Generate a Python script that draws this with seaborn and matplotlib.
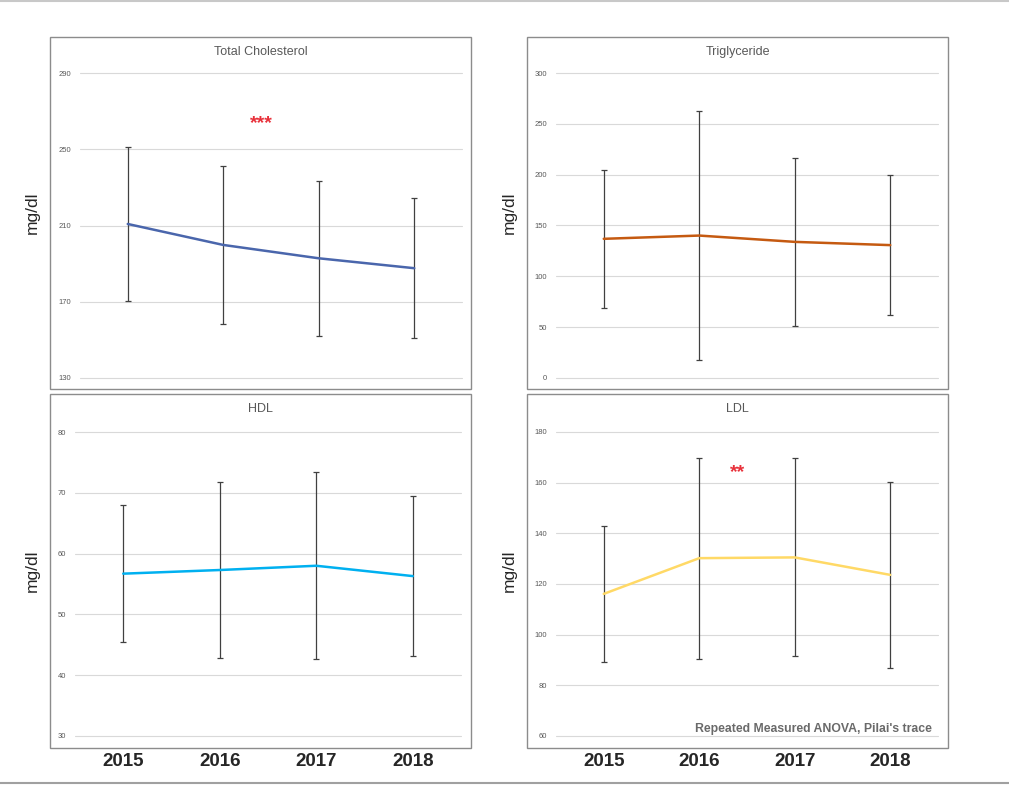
import numpy as np
import pandas as pd
import matplotlib.pyplot as plt
import seaborn as sns
from matplotlib.patches import Rectangle
from matplotlib.lines import Line2D

years = ["2015", "2016", "2017", "2018"]

# mean and SD per year (mg/dl)
tc_mean = [210.8, 199.8, 192.8, 187.6]
tc_sd = [40.4, 41.4, 40.7, 36.8]
tg_mean = [136.9, 140.1, 133.9, 130.7]
tg_sd = [68.1, 122.8, 82.9, 69.0]
hdl_mean = [56.7, 57.3, 58.0, 56.3]
hdl_sd = [11.3, 14.5, 15.4, 13.2]
ldl_mean = [116.1, 130.2, 130.5, 123.6]
ldl_sd = [26.9, 39.7, 39.1, 36.7]

titles = ["Total Cholesterol", "Triglyceride", "HDL", "LDL"]
yticks = [
    [130, 170, 210, 250, 290],
    [0, 50, 100, 150, 200, 250, 300],
    [30, 40, 50, 60, 70, 80],
    [60, 80, 100, 120, 140, 160, 180],
]
colors = ["#4A66AC", "#C55A11", "#00B0F0", "#FFD966"]

sns.set_style("white")
plt.rcParams["font.family"] = ["Liberation Sans", "DejaVu Sans"]

W, H = 1009, 785
fig = plt.figure(figsize=(W / 100, H / 100), dpi=100)

# pixel boxes: plot area (x0, y0, x1, y1) and outer frame
plot_px = [(80, 73, 462, 378), (556, 73, 938, 378),
           (75, 432, 461, 736), (556, 432, 938, 736)]
frame_px = [(50, 37, 471, 389), (527, 37, 948, 389),
            (50, 394, 471, 748), (527, 394, 948, 748)]

means = [tc_mean, tg_mean, hdl_mean, ldl_mean]
sds = [tc_sd, tg_sd, hdl_sd, ldl_sd]

axes = []
for i in range(4):
    x0, y0, x1, y1 = plot_px[i]
    ax = fig.add_axes([x0 / W, 1 - y1 / H, (x1 - x0) / W, (y1 - y0) / H])
    axes.append(ax)
    df = pd.DataFrame({"pos": np.arange(len(years)), "mean": means[i], "sd": sds[i]})

    ax.errorbar(df["pos"], df["mean"], yerr=df["sd"], fmt="none", ecolor="#404040",
                elinewidth=0.9, capsize=2.5, capthick=0.9, zorder=2)
    sns.lineplot(data=df, x="pos", y="mean", ax=ax, color=colors[i], lw=1.8, zorder=3)

    ax.set_xlim(-0.5, len(years) - 0.5)
    ax.set_ylim(yticks[i][0], yticks[i][-1])
    ax.set_yticks(yticks[i])
    ax.set_xticks(np.arange(len(years)))
    ax.yaxis.grid(True, color="#D9D9D9", lw=0.8)
    ax.xaxis.grid(False)
    for gl in ax.get_ygridlines():
        gl.set_clip_on(False)
    for s in ax.spines.values():
        s.set_visible(False)
    ax.set_xlabel("")
    ax.set_ylabel("")
    ax.tick_params(axis="y", length=0, labelsize=5.5, labelcolor="#595959", pad=6.5)
    if i >= 2:
        ax.set_xticklabels(years)
        ax.tick_params(axis="x", length=0, labelsize=13.5, pad=12)
        for t in ax.get_xticklabels():
            t.set_fontweight("bold")
    else:
        ax.set_xticklabels([])
        ax.tick_params(axis="x", length=0)

    fx0, fy0, fx1, fy1 = frame_px[i]
    fig.add_artist(Rectangle((fx0 / W, 1 - fy1 / H), (fx1 - fx0) / W, (fy1 - fy0) / H,
                             transform=fig.transFigure, fill=False,
                             ec="#8C8C8C", lw=1.0))
    fig.text((fx0 + fx1) / 2 / W, 1 - (fy0 + 15) / H, titles[i], ha="center",
             va="center", fontsize=9, color="#595959")
    fig.text((fx0 - 18) / W, 1 - ((fy0 + fy1) / 2 + 0) / H, "mg/dl", rotation=90,
             ha="center", va="center", fontsize=12.5)

# significance stars
axes[0].annotate("***", xy=(1.4, 268), xytext=(0, -9.5), textcoords="offset points",
                 ha="center", va="baseline", fontsize=14, fontweight="bold", color="#E8303A")
axes[3].annotate("**", xy=(1.4, 167.3), xytext=(0, -9.5), textcoords="offset points",
                 ha="center", va="baseline", fontsize=14, fontweight="bold", color="#E8303A")

fig.text(932 / W, 1 - 729 / H, "Repeated Measured ANOVA, Pilai's trace", ha="right",
         va="center", fontsize=8.8, fontweight="bold", color="#6A6A6A")

# thin rules at the top and bottom of the image
fig.add_artist(Line2D([0, 1], [1 - 1 / H] * 2, transform=fig.transFigure, color="#C8C8C8", lw=1.5))
fig.add_artist(Line2D([0, 1], [1 - 783 / H] * 2, transform=fig.transFigure, color="#A0A0A0", lw=1.5))

fig.savefig("out.png", dpi=100, facecolor="white")
